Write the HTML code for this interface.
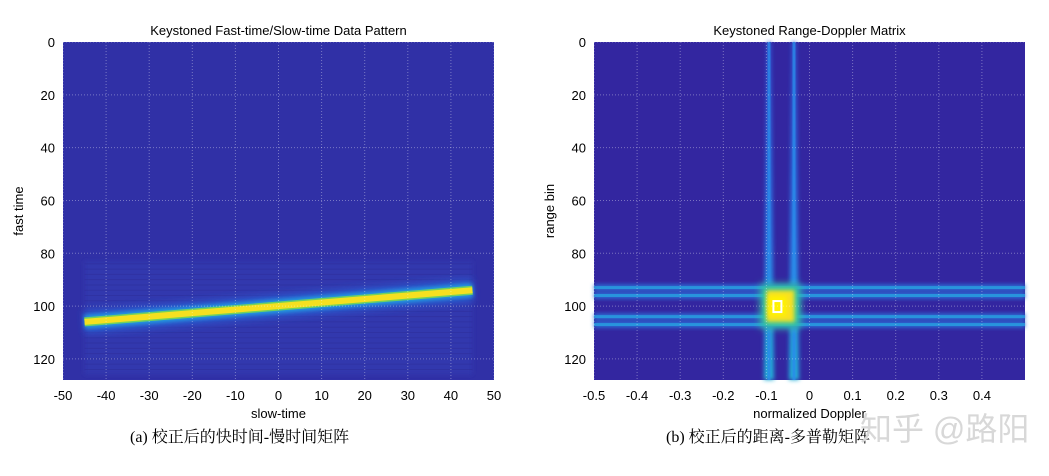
<!DOCTYPE html>
<html><head><meta charset="utf-8"><style>
body{margin:0;background:#fff;width:1049px;height:471px;overflow:hidden}
svg{font-family:"Liberation Sans",sans-serif}
.cap{font-family:"Liberation Serif","Noto Serif CJK SC",serif}
</style></head><body>
<svg width="1049" height="471">
<defs>
<linearGradient id="vg" x1="0" y1="0" x2="0" y2="1"><stop offset="0" stop-color="#2f5ad8"/><stop offset="0.6" stop-color="#2a80e8"/><stop offset="1" stop-color="#22b0d8"/></linearGradient>
<filter id="bl" x="-50%" y="-50%" width="200%" height="200%"><feGaussianBlur stdDeviation="2"/></filter>
<filter id="bl4" x="-50%" y="-50%" width="200%" height="200%"><feGaussianBlur stdDeviation="4"/></filter>
</defs>
<g id="left"></g>
<g id="right"></g>
<text class="cap" x="130" y="442" font-size="16">(a) 校正后的快时间-慢时间矩阵</text>
<text class="cap" x="666" y="442" font-size="16">(b) 校正后的距离-多普勒矩阵</text>
<text x="860" y="440" font-size="32" fill="#d8d8d8" font-family="Liberation Sans,Noto Sans CJK SC,sans-serif">知乎 @路阳</text>
</svg>
<script>
const NS='http://www.w3.org/2000/svg';
// left chart data
const slowTicks=[-50,-40,-30,-20,-10,0,10,20,30,40,50];
const fastTicks=[0,20,40,60,80,100,120];
const lineSlow=[-45,45];
const lineFast=[106,94];
// right chart data
const dopTicks=[-0.5,-0.4,-0.3,-0.2,-0.1,0,0.1,0.2,0.3,0.4];
const dopLines=[-0.094,-0.036];
const rangeLines=[93,96,104,107];
const peakDop=[-0.1,-0.035], peakRange=[94,106];

function el(p,t,a){const e=document.createElementNS(NS,t);for(const k in a)e.setAttribute(k,a[k]);p.appendChild(e);return e;}
function axes(g,x0,x1,y0,y1,xmin,xmax,ymax,xticks,yticks,title,xl,yl,fmt,bgc){
  const sx=v=>x0+(v-xmin)/(xmax-xmin)*(x1-x0), sy=v=>y0+v/ymax*(y1-y0);
  const bg=el(g,'rect',{x:x0,y:y0,width:x1-x0,height:y1-y0,fill:bgc});
  
  
  return {sx,sy,finish(){
    xticks.forEach(v=>{el(g,'line',{x1:sx(v),x2:sx(v),y1:y0,y2:y1,stroke:'#ffffff',opacity:0.35,'stroke-dasharray':'1 2'});
      const t=el(g,'text',{x:sx(v),y:y1+20,'font-size':13,'text-anchor':'middle'});t.textContent=fmt(v);
      });
    yticks.forEach(v=>{el(g,'line',{x1:x0,x2:x1,y1:sy(v),y2:sy(v),stroke:'#ffffff',opacity:0.35,'stroke-dasharray':'1 2'});
      const t=el(g,'text',{x:x0-8,y:sy(v)+5,'font-size':13,'text-anchor':'end'});t.textContent=v;
      });
    const tt=el(g,'text',{x:(x0+x1)/2,y:y0-7,'font-size':13,'text-anchor':'middle'});tt.textContent=title;
    
    const xt=el(g,'text',{x:(x0+x1)/2,y:y1+38,'font-size':13,'text-anchor':'middle'});xt.textContent=xl;
    
    const yc=(y0+y1)/2, yt=el(g,'text',{x:x0-40,y:yc,'font-size':13,'text-anchor':'middle',transform:`rotate(-90 ${x0-40} ${yc})`});yt.textContent=yl;
    
  }};
}
// left
const L=document.getElementById('left');
const a=axes(L,63,494,42,380,-50,50,128,slowTicks,fastTicks,'Keystoned Fast-time/Slow-time Data Pattern','slow-time','fast time',v=>v,'#3030a6');
el(L,'rect',{x:a.sx(-45),y:a.sy(83),width:a.sx(45)-a.sx(-45),height:a.sy(126)-a.sy(83),fill:'#3038ae',filter:'url(#bl)'});
for(let r=84;r<126;r+=2){el(L,'line',{x1:a.sx(-45),x2:a.sx(45),y1:a.sy(r),y2:a.sy(r),stroke:'#2c2a95',opacity:0.4,'stroke-width':1});}
const P=[a.sx(lineSlow[0]),a.sy(lineFast[0]),a.sx(lineSlow[1]),a.sy(lineFast[1])];
const line=(w,c,f)=>{const e=el(L,'line',{x1:P[0],y1:P[1],x2:P[2],y2:P[3],stroke:c,'stroke-width':w});if(f)e.setAttribute('filter',f);return e;};
line(22,'#2a58d0','url(#bl4)');line(13,'#20a0e0','url(#bl)');line(9,'#70d060');const core=line(6,'#f5e020');

a.finish();
// right
const R=document.getElementById('right');
const b=axes(R,594,1025,42,380,-0.5,0.5,128,dopTicks,fastTicks,'Keystoned Range-Doppler Matrix','normalized Doppler','range bin',v=>Number(v.toFixed(1)),'#3326a0');
dopLines.forEach(d=>{const x=b.sx(d);el(R,'polygon',{points:`${x-2},42 ${x+2},42 ${x+5},380 ${x-5},380`,fill:'url(#vg)',filter:'url(#bl)'});
  const c=el(R,'rect',{x:x-1.5,y:42,width:3,height:338,fill:'#2a8ae8',opacity:0.8});
  });
rangeLines.forEach(r=>{const y=b.sy(r);el(R,'rect',{x:594,y:y-3,width:431,height:6,fill:'#2a70d8',filter:'url(#bl)'});
  const c=el(R,'rect',{x:594,y:y-1.5,width:431,height:3,fill:'#28a0e0',opacity:0.8});
  });
const px0=b.sx(peakDop[0]),px1=b.sx(peakDop[1]),py0=b.sy(peakRange[0]),py1=b.sy(peakRange[1]);
el(R,'rect',{x:px0-6,y:py0-6,width:px1-px0+12,height:py1-py0+12,fill:'#30c8a0',filter:'url(#bl4)'});
const pk=el(R,'rect',{x:px0,y:py0,width:px1-px0,height:py1-py0,fill:'#f8e020',filter:'url(#bl)'});

const cx=(px0+px1)/2-3,cy=(py0+py1)/2;
el(R,'rect',{x:cx-9,y:cy-10,width:18,height:20,fill:'#fff200',filter:'url(#bl)'});
el(R,'rect',{x:cx-4,y:cy-5,width:8,height:11,fill:'none',stroke:'#fff','stroke-width':2});
b.finish();
</script>
</body></html>
